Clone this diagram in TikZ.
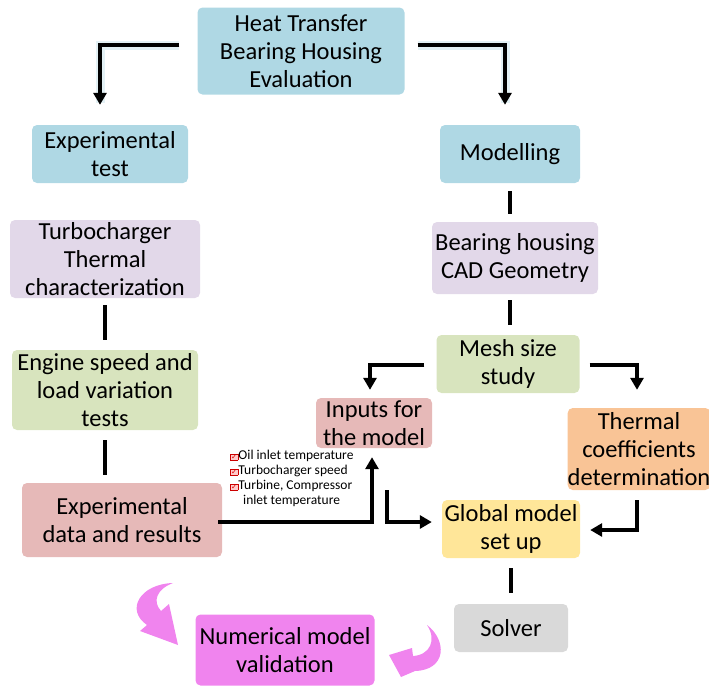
\documentclass[tikz,border=0pt]{standalone}
\usepackage{fontspec}
\setmainfont{Carlito}
\newfontfamily\symfont{DejaVu Sans}
\usetikzlibrary{arrows.meta}

\definecolor{boxblue}{RGB}{175,216,228}
\definecolor{boxlilac}{RGB}{226,216,233}
\definecolor{boxgreen}{RGB}{216,228,190}
\definecolor{boxrose}{RGB}{230,185,184}
\definecolor{boxorange}{RGB}{249,196,150}
\definecolor{boxyellow}{RGB}{255,230,153}
\definecolor{boxgrey}{RGB}{217,217,217}
\definecolor{boxviolet}{RGB}{240,132,238}

\newcommand{\chk}{{\setlength\fboxsep{0.6pt}\fcolorbox{red!80!black}{red!20}{\textcolor{red!85!black}{\symfont\fontsize{7.5}{8}\selectfont ✓}}}}

\tikzset{
  stepbox/.style={rounded corners=5pt, align=center, inner sep=2pt,
    font=\fontsize{24.5}{28}\selectfont},
  flow/.style={line width=3.5pt, -{Triangle[length=12pt,width=13pt]}},
  link/.style={line width=3.5pt},
  glow/.style={line width=9pt, boxblue!70, opacity=0.5},
  curl/.style={fill=boxviolet, draw=none}
}

\begin{document}
\begin{tikzpicture}[x=1pt,y=-1pt]
\useasboundingbox (0,0) rectangle (709,688);

% boxes
\node[stepbox, fill=boxblue, minimum width=207, minimum height=87] (ht) at (301,51) {Heat Transfer\\Bearing Housing\\Evaluation};
\node[stepbox, fill=boxblue, minimum width=156, minimum height=58] (et) at (110,154) {Experimental\\test};
\node[stepbox, fill=boxblue, minimum width=140, minimum height=58] (mo) at (510,154) {Modelling};
\node[stepbox, fill=boxlilac, minimum width=190, minimum height=78] (tc) at (105,259) {Turbocharger\\Thermal\\characterization};
\node[stepbox, fill=boxlilac, minimum width=166, minimum height=72] (cad) at (515,258) {Bearing housing\\CAD Geometry};
\node[stepbox, fill=boxgreen, minimum width=186, minimum height=80] (eng) at (105,390) {Engine speed and\\load variation\\tests};
\node[stepbox, fill=boxgreen, minimum width=143, minimum height=58] (mesh) at (508,364) {Mesh size\\study};
\node[stepbox, fill=boxrose, minimum width=116, minimum height=50] (in) at (374,423) {Inputs for\\the model};
\node[stepbox, fill=boxorange, minimum width=134, minimum height=82, inner sep=0pt] (th) at (639,449) {Thermal\\coefficients\\determination};
\node[stepbox, fill=boxrose, minimum width=200, minimum height=74] (ed) at (122,520) {Experimental\\data and results};
\node[stepbox, fill=boxyellow, minimum width=138, minimum height=58] (gl) at (511,529) {Global model\\set up};
\node[stepbox, fill=boxgrey, minimum width=114, minimum height=48] (so) at (511,628) {Solver};
\node[stepbox, fill=boxviolet, minimum width=179, minimum height=71] (nv) at (285,650) {Numerical model\\validation};

% list of inputs
\node[anchor=north west, align=left, inner sep=0pt, font=\fontsize{13.5}{15}\selectfont] (lst) at (230,450)
  {\chk Oil inlet temperature\\ \chk Turbocharger speed\\ \chk Turbine, Compressor\\ \hspace*{13pt}inlet temperature};

% top split
\draw[glow] ([shift={(-18,-6)}]ht.west) -| ([shift={(-10,-22)}]et.north);
\draw[glow] ([shift={(13,-6)}]ht.east) -| ([shift={(-5,-22)}]mo.north);
\draw[flow] ([shift={(-18,-6)}]ht.west) -| ([shift={(-10,-20)}]et.north);
\draw[flow] ([shift={(13,-6)}]ht.east) -| ([shift={(-5,-20)}]mo.north);

% plain links
\draw[link] ([shift={(0,7)}]tc.south) -- ++(0,35);
\draw[link] ([shift={(0,10)}]eng.south) -- ++(0,35);
\draw[link] ([shift={(0,8)}]mo.south) -- ++(0,23);
\draw[link] ([shift={(-5,6)}]cad.south) -- ++(0,25);
\draw[link] ([shift={(0,10)}]gl.south) -- ++(0,25);

% model branch
\draw[flow] ([shift={(-12,1)}]mesh.west) -| ([shift={(-4,-8)}]in.north);
\draw[flow] ([shift={(10,1)}]mesh.east) -| ([shift={(-2,-18)}]th.north);
\draw[flow] ([shift={(-2,10)}]th.south) |- ([shift={(10,1)}]gl.east);
\draw[flow] ([shift={(-4,2)}]ed.east) -| ([shift={(-2,9)}]in.south);
\coordinate (fork) at (387,490);
\draw[flow] (fork) |- ([shift={(-10,-7)}]gl.west);

% validation curls
\fill[curl] (173,583) .. controls (140,584) and (125,610) .. (147,625) -- (140,631) -- (178,645)
  -- (169,604) -- (161,611) .. controls (152,601) and (157,589) .. (173,583) -- cycle;
\fill[curl] (427,625) .. controls (447,640) and (447,670) .. (415,671) -- (401,677) -- (389,655)
  -- (412,648) -- (413,656) .. controls (430,655) and (437,640) .. (427,625) -- cycle;
\end{tikzpicture}
\end{document}
